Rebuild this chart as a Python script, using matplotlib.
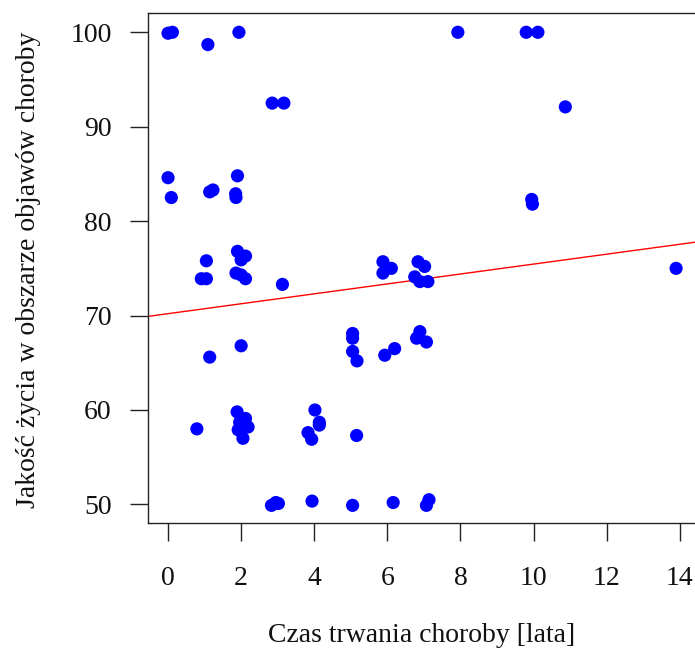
import matplotlib
matplotlib.use("Agg")
import matplotlib.pyplot as plt

# disease duration [years] and quality of life score
duration = [0.00, 0.12, 1.09, 1.94, 2.85, 3.17, 0.00, 1.90, 0.09, 1.14,
            1.23, 1.85, 1.86, 1.05, 0.91, 1.05, 1.90, 2.12, 2.00, 1.86,
            2.12, 2.00, 3.13, 1.14, 2.00, 0.79, 1.89, 2.12, 1.96, 2.19,
            1.92, 2.05, 4.02, 4.14, 4.14, 3.83, 3.93, 2.83, 2.95, 3.02,
            3.94, 7.93, 9.80, 10.12, 10.87, 5.88, 6.11, 5.88, 6.84, 7.02,
            6.75, 6.89, 7.11, 5.05, 5.05, 5.05, 5.17, 5.93, 6.20, 6.89,
            6.80, 7.07, 5.16, 5.05, 6.16, 7.07, 7.14, 9.95, 9.97, 13.9]
quality = [99.9, 100.0, 98.7, 100.0, 92.5, 92.5, 84.6, 84.8, 82.5, 83.1,
           83.3, 82.9, 82.5, 75.8, 73.9, 73.9, 76.8, 76.3, 75.9, 74.5,
           73.9, 74.3, 73.3, 65.6, 66.8, 58.0, 59.8, 59.1, 58.7, 58.2,
           57.9, 57.0, 60.0, 58.7, 58.4, 57.6, 56.9, 49.9, 50.2, 50.1,
           50.35, 100.0, 100.0, 100.0, 92.1, 75.7, 75.0, 74.5, 75.7, 75.2,
           74.1, 73.6, 73.6, 68.1, 67.6, 66.2, 65.2, 65.8, 66.5, 68.3,
           67.6, 67.2, 57.3, 49.9, 50.2, 49.9, 50.5, 82.3, 81.8, 75.0]

# regression line (intercept, slope)
fit_intercept = 70.2
fit_slope = 0.525

x_ticks = [0, 2, 4, 6, 8, 10, 12, 14]
y_ticks = [50, 60, 70, 80, 90, 100]

plt.rcParams['font.family'] = ['Liberation Serif', 'DejaVu Serif']

fig = plt.figure(figsize=(6.95, 6.48), dpi=100)
W, H = 695, 648
# box in pixels: left 147.7, right 696.4, top 13.4, bottom 523.3
ax = fig.add_axes([147.7 / W, (H - 523.3) / H, (696.4 - 147.7) / W, (523.3 - 13.4) / H])

ax.scatter(duration, quality, s=90, color='#0000ff', edgecolors='none', zorder=3)

ax.axline((0, fit_intercept), slope=fit_slope, color='#ff0000', linewidth=1.0, zorder=2)

ax.set_xlim(-0.556, 14.456)
ax.set_ylim(48, 102)
ax.set_xticks(x_ticks)
ax.set_yticks(y_ticks)

for s in ax.spines.values():
    s.set_linewidth(1.0)
    s.set_color('#222222')
ax.tick_params(axis='both', direction='out', length=13, width=1.0, color='#222222',
               labelsize=20, labelcolor='#111111')
ax.tick_params(axis='x', pad=18)
ax.tick_params(axis='y', pad=13)

fig.text(29 / W, (H - 270) / H, 'Jakość życia w obszarze objawów choroby', rotation=90,
         ha='center', va='center', fontsize=20, color='#111111')
fig.text(422 / W, (H - 636) / H, 'Czas trwania choroby [lata]',
         ha='center', va='center', fontsize=20, color='#111111')

fig.savefig('out.png', dpi=100)
